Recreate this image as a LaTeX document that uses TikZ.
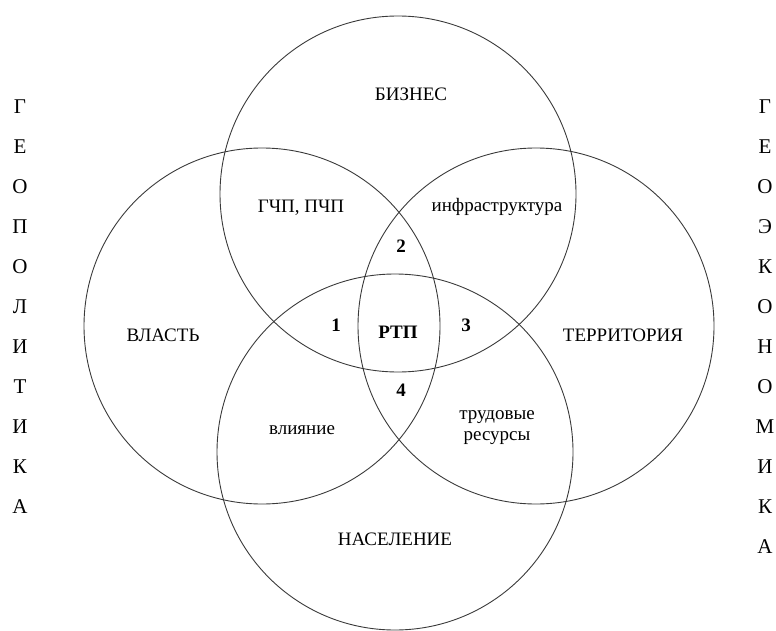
\documentclass[tikz,border=0pt]{standalone}
\usepackage{fontspec}
\setmainfont{Liberation Serif}
\usetikzlibrary{positioning}
\definecolor{RingGray}{HTML}{3A3A3A}

\begin{document}
\begin{tikzpicture}[
    x=1pt, y=-1pt,
    ring/.style={circle, draw=RingGray, line width=0.9pt, minimum size=356pt, inner sep=0pt},
    lbl/.style={font=\fontsize{19}{21}\selectfont, align=center, inner sep=1pt},
    num/.style={font=\fontsize{19}{21}\selectfont\bfseries, inner sep=1pt},
    vlet/.style={font=\fontsize{21}{23}\selectfont, inner sep=0pt}
 ]
\useasboundingbox (0,0) rectangle (776,631);

% circles
\node[ring] (biz) at (398,194) {};
\node[ring] (vlast) at (262,326) {};
\node[ring] (terr) at (536,326) {};
\node[ring] (nas) at (395,452) {};

% sector labels
\node[lbl] (tBiz) at (411,94) {БИЗНЕС};
\node[lbl] (tVlast) at (163,335) {ВЛАСТЬ};
\node[lbl] (tTerr) at (623,335) {ТЕРРИТОРИЯ};
\node[lbl] (tNas) at (395,539) {НАСЕЛЕНИЕ};

% pairwise overlaps
\node[lbl] (tGchp) at (301,208) {ГЧП, ПЧП};
\node[lbl] (tInfra) at (497,207) {инфраструктура};
\node[lbl] (tVliy) at (302,430) {влияние};
\node[lbl] (tTrud) at (497,428) {трудовые\\ресурсы};

% centre
\node[num] (one) at (336,325) {1};
\node[num] (two) at (401,246) {2};
\node[num] (three) at (466,325) {3};
\node[num] (four) at (401,390) {4};
\node[num] (rtp) at (398,332) {РТП};

% side words
\foreach \l [count=\i] in {Г,Е,О,П,О,Л,И,Т,И,К,А} {
    \node[vlet] (gpol\i) at (20,{107+40*(\i-1)}) {\l};
}
\foreach \l [count=\i] in {Г,Е,О,Э,К,О,Н,О,М,И,К,А} {
    \node[vlet] (geko\i) at (765,{107+40*(\i-1)}) {\l};
}

\end{tikzpicture}
\end{document}
